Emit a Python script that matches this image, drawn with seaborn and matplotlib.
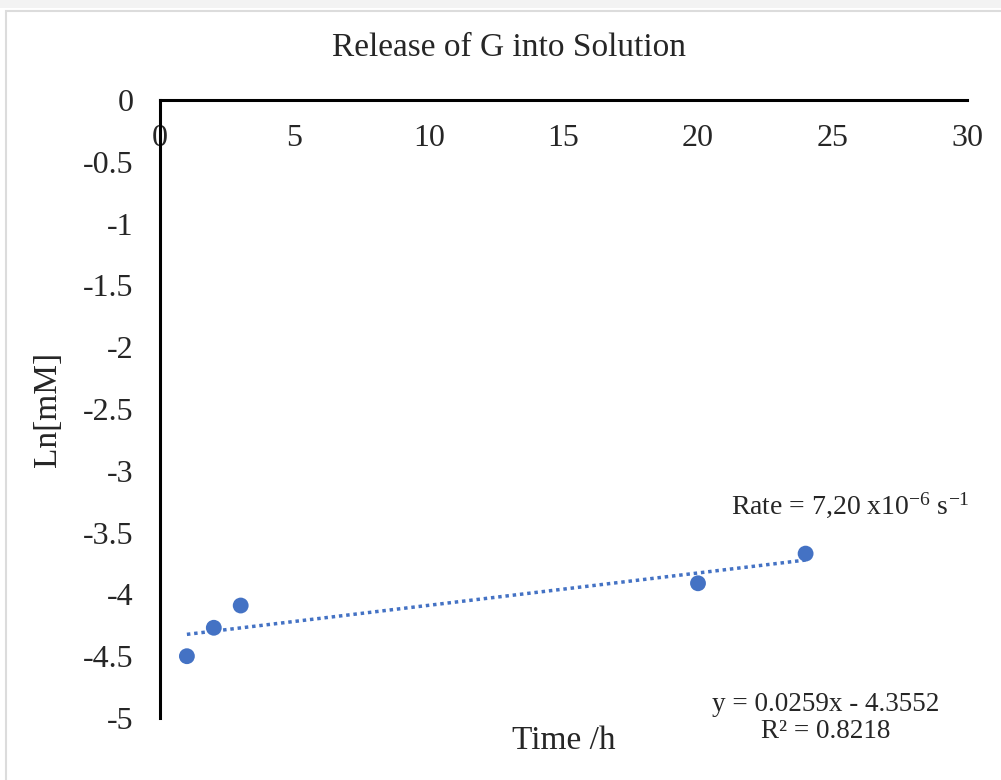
import matplotlib
matplotlib.use("Agg")
import matplotlib.pyplot as plt
import seaborn as sns
import pandas as pd
from matplotlib.patches import Rectangle

# ---- data ----
time_h = [1, 2, 3, 20, 24]
ln_mM = [-4.50, -4.27, -4.09, -3.91, -3.67]
x_ticks = [0, 5, 10, 15, 20, 25, 30]
y_ticks = [0, -0.5, -1, -1.5, -2, -2.5, -3, -3.5, -4, -4.5, -5]
y_tick_labels = ["0", "-0.5", "-1", "-1.5", "-2", "-2.5", "-3", "-3.5", "-4", "-4.5", "-5"]
title = "Release of G into Solution"
x_label = "Time /h"
y_label = "Ln[mM]"
rate_text = r"Rate = 7,20 x10$^{-6}$ s$^{-1}$"
eq_text = "y = 0.0259x - 4.3552\nR² = 0.8218"

df = pd.DataFrame({"t": time_h, "ln": ln_mM})

sns.set_theme(style="white")
plt.rcParams["font.family"] = ["Liberation Serif", "DejaVu Serif"]
plt.rcParams["mathtext.fontset"] = "custom"
plt.rcParams["mathtext.rm"] = "Liberation Serif"
plt.rcParams["mathtext.it"] = "Liberation Serif:italic"
plt.rcParams["mathtext.default"] = "rm"

blue = "#4472C4"
fig = plt.figure(figsize=(10.01, 7.8), dpi=100)
ax = fig.add_axes([160 / 1001, 1 - 718 / 780, (967 - 160) / 1001, (718 - 100) / 780])

sns.regplot(data=df, x="t", y="ln", ax=ax, ci=None,
            scatter_kws=dict(s=130, color=blue, edgecolor="none", alpha=1, zorder=3),
            line_kws=dict(color=blue, ls=(0, (1, 1.1)), lw=2.5))

ax.set_xlim(0, 30)
ax.set_ylim(-5, 0)
ax.set_xticks(x_ticks)
ax.set_yticks(y_ticks)
ax.set_yticklabels(y_tick_labels)
ax.set_xlabel("")
ax.set_ylabel("")

for s in ["top", "right"]:
    ax.spines[s].set_visible(False)
ax.spines["bottom"].set_position(("data", 0))
ax.spines["bottom"].set_color("black")
ax.spines["left"].set_color("black")
ax.spines["bottom"].set_linewidth(2.2)
ax.spines["left"].set_linewidth(2.2)
ax.tick_params(axis="x", length=0, pad=17, labelsize=23)
ax.tick_params(axis="y", length=0, pad=19, labelsize=23)

fig.text(509 / 1001, 1 - 48 / 780, title, ha="center", va="center", fontsize=24)
fig.text(0.5 * (160 + 967) / 1001, 1 - 741 / 780, x_label, ha="center", va="center", fontsize=24)
fig.text(48 / 1001, 1 - 409 / 780, y_label, ha="center", va="center", rotation=90, fontsize=24)
fig.text(850 / 1001, 1 - 505 / 780, rate_text, ha="center", va="center", fontsize=20)
fig.text(826 / 1001, 1 - 718 / 780, eq_text, ha="center", va="center", fontsize=19.5,
         linespacing=1.12)

# screenshot frame
fig.patches.append(Rectangle((0, 1 - 8 / 780), 1, 8 / 780, transform=fig.transFigure,
                             facecolor="#f3f3f3", edgecolor="none", zorder=0))
fig.patches.append(Rectangle((6 / 1001, -0.02), 1.1, 1 - 11 / 780 + 0.02, transform=fig.transFigure,
                             facecolor="none", edgecolor="#dcdcdc", lw=1.5, zorder=0))

fig.savefig("out.png", dpi=100)
